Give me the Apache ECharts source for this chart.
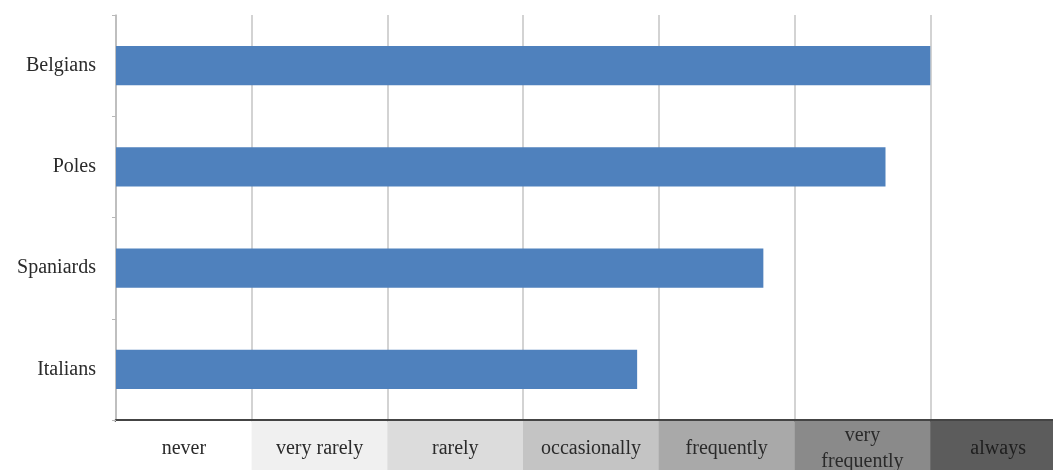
<!DOCTYPE html>
<html>
<head>
<meta charset="utf-8">
<script src="https://cdn.jsdelivr.net/npm/echarts@6/dist/echarts.min.js"></script>
<style>
html,body{margin:0;padding:0;background:#fff;}
#chart{width:1053px;height:470px;}
</style>
</head>
<body>
<div id="chart"></div>
<script>
var groups = ['Belgians', 'Poles', 'Spaniards', 'Italians'];
var values = [6.0, 5.67, 4.77, 3.84];
var scaleLabels = ['never', 'very rarely', 'rarely', 'occasionally', 'frequently', 'very\nfrequently', 'always'];
var scaleColors = ['#ffffff', '#f0f0f0', '#dcdcdc', '#c4c4c4', '#a9a9a9', '#8a8a8a', '#5c5c5c'];

var FONT = '"Liberation Serif", "Times New Roman", serif';

var catData = scaleLabels.map(function (l, i) {
  var twoLine = l.indexOf('\n') >= 0;
  return {
    value: l,
    textStyle: {
      backgroundColor: scaleColors[i],
      width: 136,
      align: 'center',
      lineHeight: 26,
      padding: twoLine ? [2, 0, 0, 0] : [15, 0, 8, 0],
      color: i === 6 ? '#1e1e1e' : '#2a2a2a'
    }
  };
});

var chart = echarts.init(document.getElementById('chart'));
chart.setOption({
  animation: false,
  grid: { left: 116, top: 15, width: 950, height: 405, outerBoundsMode: 'none', containLabel: false },
  xAxis: [
    {
      type: 'value', min: 0, max: 7, interval: 1,
      axisLine: { show: false }, axisTick: { show: false },
      axisLabel: { show: false },
      splitLine: { show: true, lineStyle: { color: '#c4c4c4', width: 1.5 } }
    },
    {
      type: 'category', position: 'bottom', data: catData, boundaryGap: true,
      axisLine: { show: true, lineStyle: { color: '#444', width: 3 } },
      axisTick: { show: false },
      axisLabel: { interval: 0, margin: 1, fontFamily: FONT, fontSize: 20, verticalAlign: 'top' },
      splitLine: { show: false }
    }
  ],
  yAxis: {
    type: 'category', data: groups, inverse: true,
    axisLine: { show: true, lineStyle: { color: '#b8b8b8', width: 1.5 } },
    axisTick: { show: true, length: 4, lineStyle: { color: '#b8b8b8' } },
    axisLabel: { margin: 20, fontFamily: FONT, fontSize: 20, color: '#2a2a2a' }
  },
  series: [{
    type: 'bar', xAxisIndex: 0, data: values, barWidth: '39%',
    itemStyle: { color: '#4f81bd' }
  }]
});
</script>
</body>
</html>
